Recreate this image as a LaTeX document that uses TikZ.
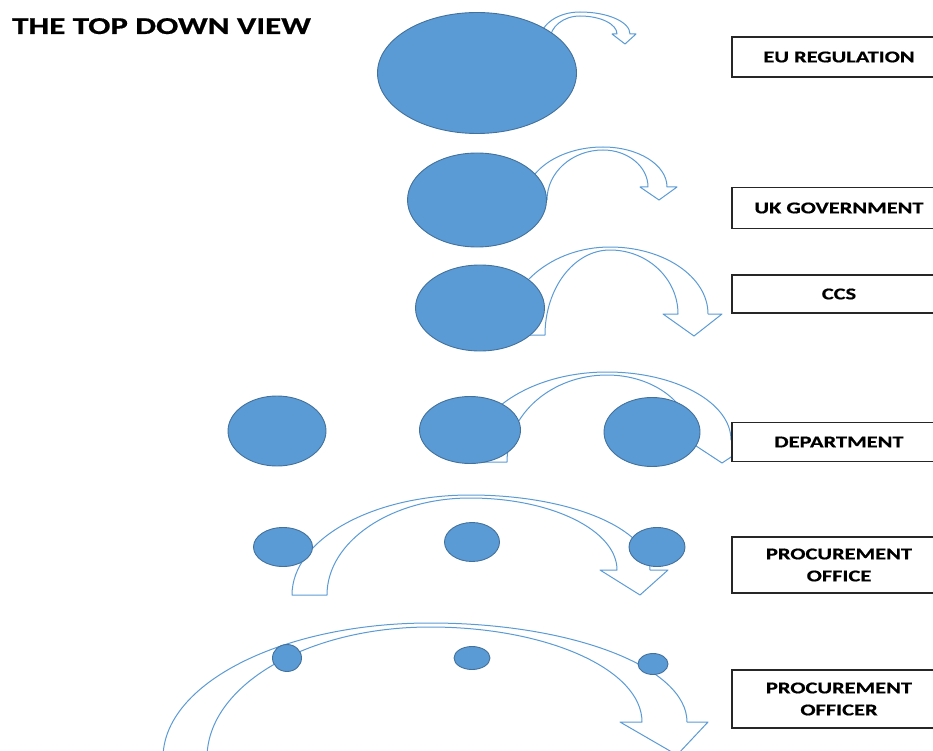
\documentclass[tikz,border=0pt]{standalone}
\usepackage{fontspec}
\setmainfont{Carlito}
\newfontfamily\labelfont{Carlito}[FakeStretch=1.36, FakeBold=0.6]
\usetikzlibrary{shapes.geometric}
\definecolor{blobfill}{HTML}{5B9BD5}
\definecolor{blobedge}{HTML}{41719C}
\definecolor{bandline}{HTML}{5B9BD5}
\definecolor{boxedge}{HTML}{262626}
\tikzset{
  blob/.style={ellipse, fill=blobfill, draw=blobedge, line width=0.9pt, inner sep=0pt},
  band/.style={draw=bandline, fill=white, line width=1pt, line join=round},
  tag/.style={draw=boxedge, fill=white, line width=1.6pt, inner sep=0pt,
    minimum width=214pt, align=center,
    font=\labelfont\bfseries\fontsize{16.5}{22}\selectfont},
  heading/.style={anchor=base west, inner sep=0pt,
    font=\labelfont\bfseries\fontsize{24.2}{27}\selectfont}
}
\begin{document}
\begin{tikzpicture}[x=1pt, y=-1pt]
\useasboundingbox (0,0) rectangle (933,751);
\clip (0,0) rectangle (933,751);

% curved block arrows, one per level
\draw[band] (540,40) arc[start angle=180, end angle=270, x radius=40, y radius=28]
  arc[start angle=270, end angle=360, x radius=50, y radius=22]
  -- (636,34) -- (625,44) -- (612,34) -- (617,34)
  arc[start angle=0, end angle=-90, x radius=37, y radius=18]
  arc[start angle=270, end angle=180, x radius=30, y radius=24] -- cycle;

\draw[band] (525,200) arc[start angle=180, end angle=270, x radius=78, y radius=53]
  arc[start angle=270, end angle=360, x radius=64, y radius=40]
  -- (677,187) -- (659,200) -- (640,187) -- (648,187)
  arc[start angle=0, end angle=-90, x radius=45, y radius=37]
  arc[start angle=270, end angle=180, x radius=56, y radius=50] -- cycle;

\draw[band] (505,335) arc[start angle=180, end angle=270, x radius=105, y radius=88]
  arc[start angle=270, end angle=360, x radius=98, y radius=67]
  -- (722,314) -- (694,336) -- (663,314) -- (678,314)
  arc[start angle=0, end angle=-90, x radius=68, y radius=64]
  arc[start angle=270, end angle=180, x radius=65, y radius=85] -- cycle;

\draw[band] (470,462) arc[start angle=180, end angle=270, x radius=137, y radius=90]
  arc[start angle=270, end angle=360, x radius=124, y radius=68]
  -- (757,440) -- (722,463) -- (687,440) -- (692,440)
  arc[start angle=0, end angle=-90, x radius=85, y radius=65]
  arc[start angle=270, end angle=180, x radius=100, y radius=87] -- cycle;

\draw[band] (292,595) arc[start angle=180, end angle=270, x radius=178, y radius=100]
  arc[start angle=270, end angle=360, x radius=180, y radius=75]
  -- (668,570) -- (640,595) -- (600,570) -- (617,570)
  arc[start angle=0, end angle=-90, x radius=147, y radius=72]
  arc[start angle=270, end angle=180, x radius=143, y radius=97] -- cycle;

\draw[band] (163,758) arc[start angle=180, end angle=270, x radius=267, y radius=135]
  arc[start angle=270, end angle=360, x radius=257, y radius=99]
  -- (708,722) -- (677,755) -- (620,722) -- (642,722)
  arc[start angle=0, end angle=-90, x radius=212, y radius=95]
  arc[start angle=270, end angle=180, x radius=223, y radius=131] -- cycle;

% the bodies at each level
\node[blob, minimum width=199pt, minimum height=121pt] (eu) at (477,73) {};
\node[blob, minimum width=139pt, minimum height=94pt] (uk) at (477,200) {};
\node[blob, minimum width=129pt, minimum height=86pt] (ccs) at (480,308) {};
\node[blob, minimum width=98pt, minimum height=70pt] (depA) at (277,431) {};
\node[blob, minimum width=101pt, minimum height=67pt] (depB) at (470,430) {};
\node[blob, minimum width=96pt, minimum height=69pt] (depC) at (652,432) {};
\node[blob, minimum width=59pt, minimum height=39pt] (offA) at (283,547) {};
\node[blob, minimum width=55pt, minimum height=39pt] (offB) at (472,542) {};
\node[blob, minimum width=56pt, minimum height=39pt] (offC) at (657,547) {};
\node[blob, minimum width=29pt, minimum height=27pt] (ofcA) at (287,658) {};
\node[blob, minimum width=36pt, minimum height=23pt] (ofcB) at (472,658) {};
\node[blob, minimum width=30pt, minimum height=21pt] (ofcC) at (653,664) {};

% level labels
\node[tag, minimum height=40pt] (tEU) at (839,57) {EU REGULATION};
\node[tag, minimum height=41pt] (tUK) at (839,208) {UK GOVERNMENT};
\node[tag, minimum height=38pt] (tCCS) at (839,294) {CCS};
\node[tag, minimum height=39pt] (tDep) at (839,442) {DEPARTMENT};
\node[tag, minimum height=56pt] (tOff) at (839,565) {PROCUREMENT\\OFFICE};
\node[tag, minimum height=58pt] (tOfc) at (839,699) {PROCUREMENT\\OFFICER};

\node[heading] (title) at (12,34) {THE TOP DOWN VIEW};
\end{tikzpicture}
\end{document}
